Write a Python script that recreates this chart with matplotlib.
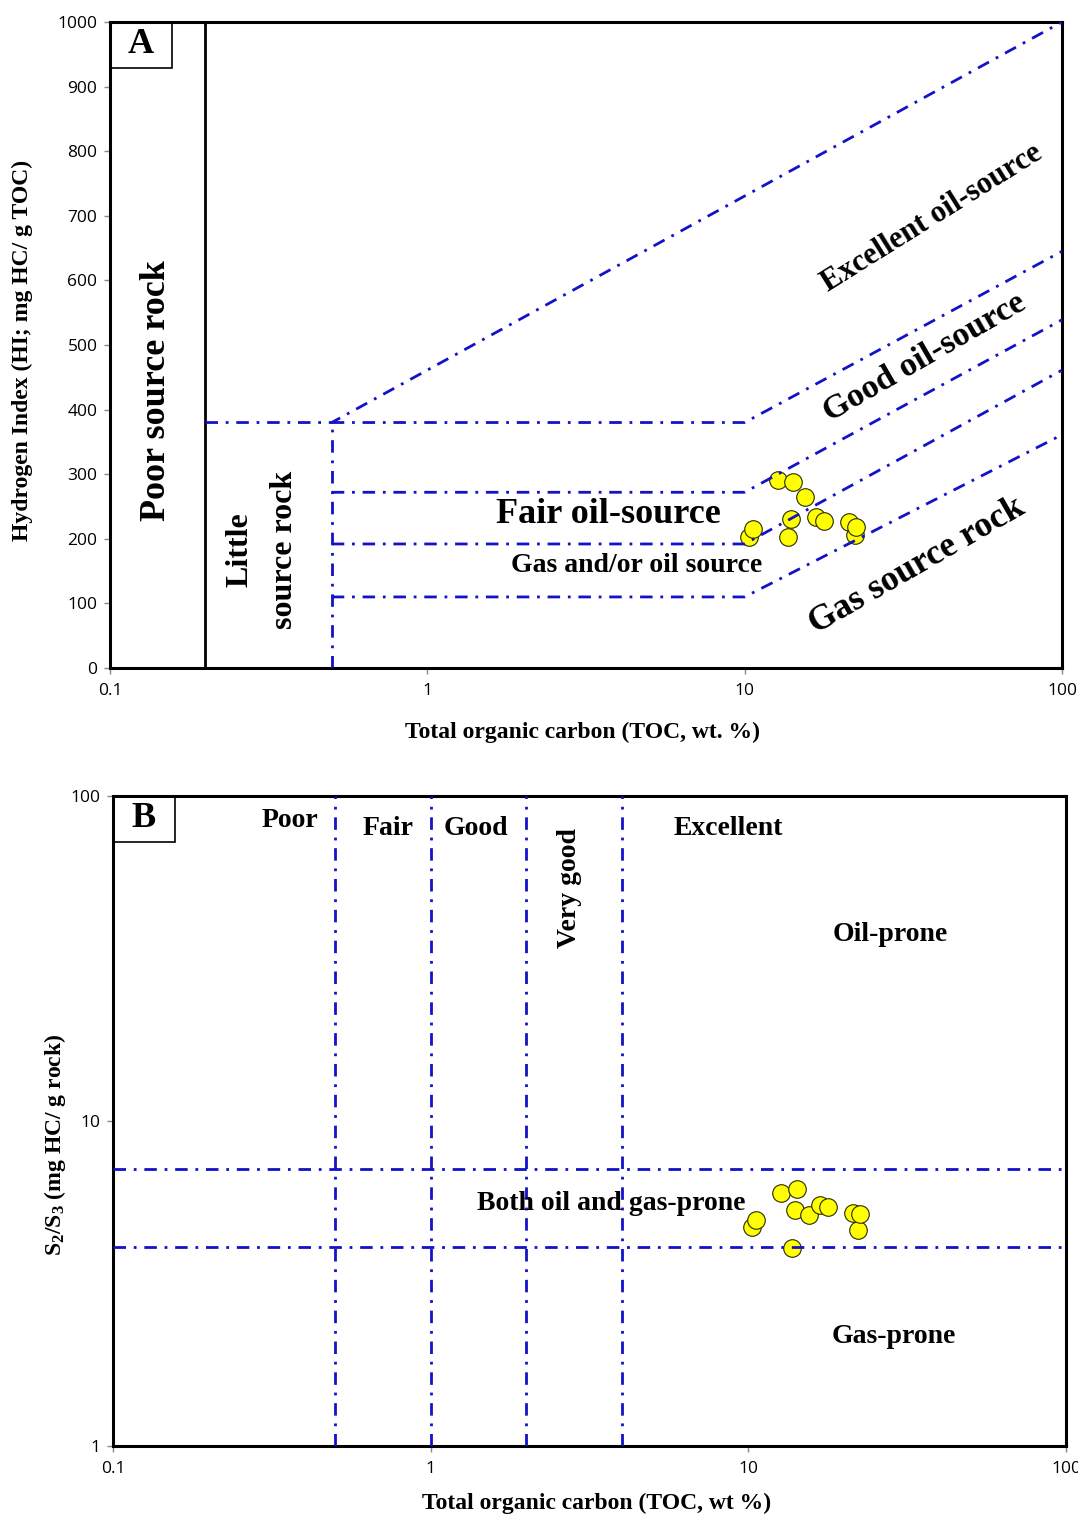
import matplotlib
matplotlib.use("Agg")
import matplotlib.pyplot as plt
from matplotlib.patches import Rectangle

# sample data (shared TOC values, wt %)
toc = [10.3, 10.6, 12.7, 13.7, 14.0, 14.2, 15.5, 16.8, 17.8, 21.3, 22.2, 22.5]
hi = [203, 215, 291, 203, 231, 288, 265, 234, 228, 226, 206, 218]
s2_s3 = [4.72, 4.96, 6.0, 4.07, 5.32, 6.18, 5.14, 5.52, 5.44, 5.21, 4.62, 5.17]

# panel A boundaries
hi_break = [380, 272, 192, 110]      # HI at TOC 0.5-10
hi_at_100 = [645, 539, 461, 361]     # HI at TOC 100
hi_top = 1000

# panel B boundaries
toc_limits = [0.5, 1, 2, 4]
s2s3_limits = [7.1, 4.1]

BLUE = "#1212c8"
DASH = (0, (4.5, 2.8, 1, 2.8))
SERIF = "Liberation Serif"

plt.rcParams["font.family"] = "Open Sans"
plt.rcParams["mathtext.fontset"] = "custom"
plt.rcParams["mathtext.rm"] = "Liberation Serif:bold"
plt.rcParams["mathtext.it"] = "Liberation Serif:bold"

fig = plt.figure(figsize=(10.78, 15.16), dpi=100)
ax_a = fig.add_axes([0.1020, 0.55937, 0.8831, 0.42612])
ax_b = fig.add_axes([0.10482, 0.04617, 0.88404, 0.42876])


def style_axes(ax):
    ax.set_xscale("log")
    for sp in ax.spines.values():
        sp.set_linewidth(2.2)
        sp.set_color("black")
    ax.tick_params(which="major", length=4, width=1, color="#888888",
                   labelsize=12.5, pad=5)
    ax.tick_params(which="minor", length=0)
    ax.tick_params(axis="x", pad=7)


def panel_tag(ax, letter):
    ax.add_patch(Rectangle((0, 1), 0.065, -0.071, transform=ax.transAxes,
                           fill=False, lw=1.2, ec="black", zorder=5))
    ax.text(0.0325, 0.965, letter, transform=ax.transAxes, ha="center",
            va="center", family=SERIF, weight="bold", fontsize=26, zorder=6)


# ---------------- panel A ----------------
style_axes(ax_a)
ax_a.set_xlim(0.1, 100)
ax_a.set_ylim(0, 1000)
ax_a.set_yticks(range(0, 1001, 100))
ax_a.set_xticks([0.1, 1, 10, 100])
ax_a.set_xticklabels(["0.1", "1", "10", "100"])

ax_a.scatter(toc, hi, s=160, c="#ffff00", edgecolors="#2a2a00",
             linewidths=0.8, zorder=3)

ax_a.plot([0.2, 0.2], [0, hi_top], color="black", lw=2, zorder=4)
ax_a.plot([0.2, 0.5, 100], [hi_break[0], hi_break[0], hi_top],
          color=BLUE, lw=2, ls=DASH, zorder=4)
ax_a.plot([0.5, 0.5], [0, hi_break[0]], color=BLUE, lw=2, ls=DASH, zorder=4)
for h0, h1 in zip(hi_break, hi_at_100):
    ax_a.plot([0.5, 10, 100], [h0, h0, h1], color=BLUE, lw=2, ls=DASH,
              zorder=4)

bold = dict(family=SERIF, weight="bold", ha="center", va="center", zorder=6)
ax_a.text(0.1406, 430, "Poor source rock", rotation=90, fontsize=26, **bold)
ax_a.text(0.257, 183, "Little", rotation=90, fontsize=23, **bold)
ax_a.text(0.356, 183, "source rock", rotation=90, fontsize=23, **bold)
ax_a.text(3.71, 238, "Fair oil-source", fontsize=26, **bold)
ax_a.text(4.58, 159, "Gas and/or oil source", fontsize=20, **bold)
ax_a.text(39.0, 697, "Excellent oil-source", rotation=32, fontsize=22, **bold)
ax_a.text(37.0, 481, "Good oil-source", rotation=30, fontsize=24.5, **bold)
ax_a.text(34.9, 158, "Gas source rock", rotation=30, fontsize=25.5, **bold)

ax_a.set_xlabel("Total organic carbon (TOC, wt. %)", family=SERIF,
                weight="bold", fontsize=17)
ax_a.xaxis.set_label_coords(0.496, -0.099)
ax_a.xaxis.label.set_va("center")
ax_a.set_ylabel("Hydrogen Index (HI; mg HC/ g TOC)", family=SERIF,
                weight="bold", fontsize=17)
ax_a.yaxis.set_label_coords(-0.0924, 0.492)
ax_a.yaxis.label.set_va("center")
panel_tag(ax_a, "A")

# ---------------- panel B ----------------
style_axes(ax_b)
ax_b.set_yscale("log")
ax_b.set_xlim(0.1, 100)
ax_b.set_ylim(1, 100)
ax_b.set_xticks([0.1, 1, 10, 100])
ax_b.set_xticklabels(["0.1", "1", "10", "100"])
ax_b.set_yticks([1, 10, 100])
ax_b.set_yticklabels(["1", "10", "100"])

ax_b.scatter(toc, s2_s3, s=160, c="#ffff00", edgecolors="#2a2a00",
             linewidths=0.8, zorder=3)
for xv in toc_limits:
    ax_b.axvline(xv, color=BLUE, lw=2, ls=DASH, zorder=4)
for yv in s2s3_limits:
    ax_b.axhline(yv, color=BLUE, lw=2, ls=DASH, zorder=4)

ax_b.text(0.360, 83.8, "Poor", fontsize=20, **bold)
ax_b.text(0.735, 79.7, "Fair", fontsize=20, **bold)
ax_b.text(1.389, 79.7, "Good", fontsize=20, **bold)
ax_b.text(2.745, 52.1, "Very good", rotation=90, fontsize=20, **bold)
ax_b.text(8.63, 79.7, "Excellent", fontsize=20, **bold)
ax_b.text(27.9, 37.4, "Oil-prone", fontsize=20, **bold)
ax_b.text(3.69, 5.59, "Both oil and gas-prone", fontsize=20, **bold)
ax_b.text(28.7, 2.18, "Gas-prone", fontsize=20, **bold)

ax_b.set_xlabel("Total organic carbon (TOC, wt %)", family=SERIF,
                weight="bold", fontsize=17)
ax_b.xaxis.set_label_coords(0.507, -0.089)
ax_b.xaxis.label.set_va("center")
ax_b.set_ylabel(r"S$_2$/S$_3$ (mg HC/ g rock)", family=SERIF,
                weight="bold", fontsize=17)
ax_b.yaxis.set_label_coords(-0.0609, 0.463)
ax_b.yaxis.label.set_va("center")
panel_tag(ax_b, "B")

fig.savefig("out.png", dpi=100, facecolor="white")
